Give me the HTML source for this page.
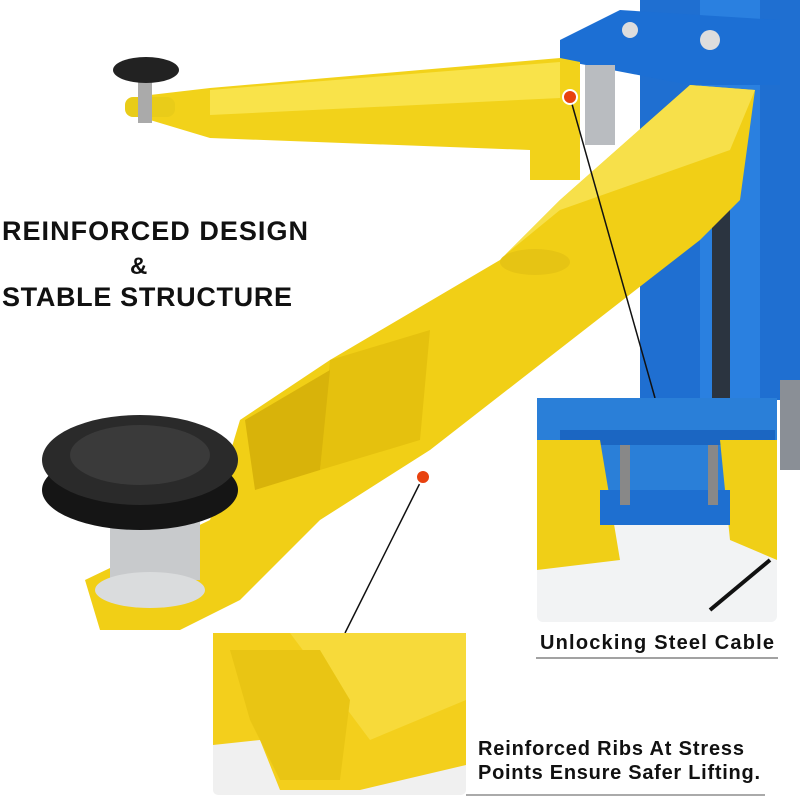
<!DOCTYPE html>
<html><head><meta charset="utf-8"><style>
html,body{margin:0;padding:0;background:#fff;}
svg{display:block}
text{font-family:"Liberation Sans",sans-serif;font-weight:bold;fill:#111}
</style></head><body>
<svg width="800" height="800" viewBox="0 0 800 800" xmlns="http://www.w3.org/2000/svg">
<rect width="800" height="800" fill="#fff"/>
<rect x="640" y="0" width="160" height="400" fill="#1f6fd1"/>
<rect x="700" y="0" width="60" height="400" fill="#2a80e0"/>
<rect x="712" y="200" width="18" height="200" fill="#2b3440"/>
<rect x="780" y="380" width="20" height="90" fill="#8a8f96"/>
<polygon points="560,40 620,10 780,20 780,85 690,85 560,60" fill="#1c6fd4"/>
<rect x="585" y="65" width="30" height="80" fill="#b9bcc0"/>
<circle cx="630" cy="30" r="8" fill="#ddd"/><circle cx="710" cy="40" r="10" fill="#ddd"/>
<polygon points="150,95 210,88 560,58 580,62 580,180 530,180 530,150 210,138 150,120" fill="#f2d21a"/>
<polygon points="210,90 560,62 560,98 210,115" fill="#f9e34a"/>
<rect x="125" y="97" width="50" height="20" rx="8" fill="#e9cc19"/>
<rect x="138" y="78" width="14" height="45" fill="#aaa"/>
<ellipse cx="146" cy="70" rx="33" ry="13" fill="#222"/>
<polygon points="690,85 755,90 740,200 700,240 520,380 430,450 320,520 240,600 180,630 100,630 85,580 210,520 240,420 330,360 500,260 560,200" fill="#f1cf16"/>
<polygon points="690,85 755,90 730,150 560,210 505,255 560,200" fill="#f7e04a"/>
<polygon points="330,360 430,330 420,440 320,470" fill="#e5c10e"/>
<polygon points="245,420 330,370 320,470 255,490" fill="#d8b30a"/>
<ellipse cx="535" cy="262" rx="35" ry="13" fill="#e6c414"/>
<rect x="110" y="520" width="90" height="60" fill="#c8cacc"/>
<ellipse cx="150" cy="590" rx="55" ry="18" fill="#dadcdd"/>
<ellipse cx="140" cy="490" rx="98" ry="40" fill="#151515"/>
<ellipse cx="140" cy="460" rx="98" ry="45" fill="#2a2a2a"/>
<ellipse cx="140" cy="455" rx="70" ry="30" fill="#3a3a3a"/>
<line x1="570" y1="97" x2="655" y2="398" stroke="#111" stroke-width="1.5"/>
<line x1="423" y1="477" x2="345" y2="633" stroke="#111" stroke-width="1.5"/>
<circle cx="570" cy="97" r="7" fill="#e8420f" stroke="#fff" stroke-width="2"/>
<circle cx="423" cy="477" r="7" fill="#e8420f" stroke="#fff" stroke-width="2"/>
<rect x="537" y="398" width="240" height="224" rx="6" fill="#f2f3f4"/>
<polygon points="537,398 777,398 777,500 537,500" fill="#2a7fd8"/>
<polygon points="560,430 775,430 775,445 560,445" fill="#1b66c2"/>
<polygon points="537,440 600,440 620,560 537,570" fill="#f0cf17"/>
<polygon points="720,440 777,440 777,560 730,540" fill="#f0cf17"/>
<rect x="600" y="490" width="130" height="35" fill="#1e6fd0"/>
<rect x="620" y="445" width="10" height="60" fill="#888"/><rect x="708" y="445" width="10" height="60" fill="#888"/>
<line x1="710" y1="610" x2="770" y2="560" stroke="#111" stroke-width="4"/>
<text x="540" y="649" font-size="20" textLength="234" lengthAdjust="spacing">Unlocking Steel Cable</text>
<line x1="536" y1="658" x2="778" y2="658" stroke="#444" stroke-width="1"/>
<rect x="213" y="633" width="253" height="162" rx="5" fill="#f0f0f0"/>
<polygon points="213,633 466,633 466,765 360,790 280,790 260,740 213,745" fill="#f3cf1c"/>
<polygon points="290,633 466,633 466,700 370,740" fill="#f7da3a"/>
<polygon points="230,650 320,650 350,700 340,780 280,780 250,720" fill="#e9c514"/>
<text x="478" y="755" font-size="20" textLength="266" lengthAdjust="spacing">Reinforced Ribs At Stress</text>
<text x="478" y="779" font-size="20" textLength="282" lengthAdjust="spacing">Points Ensure Safer Lifting.</text>
<line x1="466" y1="795" x2="765" y2="795" stroke="#555" stroke-width="1"/>
<text x="2" y="240" font-size="27" textLength="306" lengthAdjust="spacing">REINFORCED DESIGN</text>
<text x="130" y="274" font-size="24">&amp;</text>
<text x="2" y="306" font-size="27" textLength="290" lengthAdjust="spacing">STABLE STRUCTURE</text>
</svg>
</body></html>
